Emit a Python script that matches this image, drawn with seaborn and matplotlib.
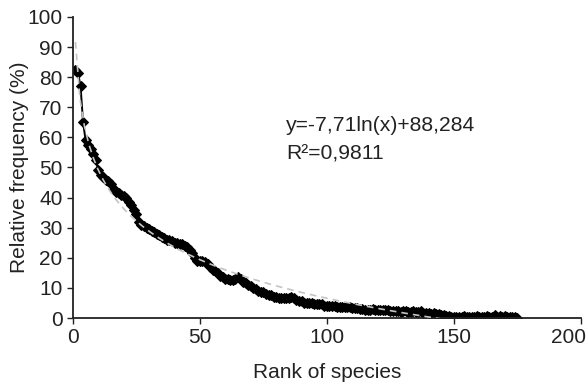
import numpy as np
import pandas as pd
import matplotlib
matplotlib.use("Agg")
import matplotlib.pyplot as plt
import matplotlib.transforms as mtransforms
import seaborn as sns

# ==============================
# data
# ==============================
freq = [
    82.5, 81.5, 77, 65, 59, 57.5, 56, 54.5, 52.5, 49,        # 1-10
    47.5, 47, 46, 45.5, 44.5, 43, 42, 41.5, 41, 40.5,        # 11-20
    40, 38.5, 37.5, 36, 34.5, 32, 31, 30.5, 30, 29.5,        # 21-30
    29, 28.5, 28, 27.5, 27, 26.5, 26, 26, 25.5, 25,          # 31-40
    25, 24.5, 24.5, 24, 23.5, 22.5, 21.5, 20, 19, 19,        # 41-50
    19, 18.5, 18, 17, 16, 15.5, 15, 14, 13.5, 13,            # 51-60
    13, 12.5, 12.5, 13, 13.5, 13, 12, 11.5, 11, 10.5,        # 61-70
    10, 9.5, 9, 8.5, 8.5, 8, 7.5, 7.5, 7, 7,                 # 71-80
    6.5, 6.5, 6.5, 6.5, 6.5, 7, 6.5, 6, 5.5, 5.5,            # 81-90
    5, 5, 5, 5, 4.5, 4.5, 4.5, 4.5, 4, 4,                    # 91-100
    4, 4, 4, 3.8, 3.8, 3.8, 3.5, 3.5, 3.5, 3.3,              # 101-110
    3.2, 3.2, 3, 2.9, 2.8, 2.8, 2.7, 2.9, 2.6, 2.6,          # 111-120
    2.6, 2.5, 2.5, 2.7, 2.4, 2.3, 2.3, 2.2, 2.1, 2.2,        # 121-130
    2.4, 2.0, 2.0, 2.4, 2.0, 1.9, 2.2, 1.8, 1.7, 1.6,        # 131-140
    1.4, 1.7, 1.3, 1.2, 1.0, 1.0, 0.8, 0.7, 0.3, 0.2,        # 141-150
    0.5, 0.3, 0.3, 0.6, 0.2, 0.5, 0.3, 0.4, 0.7, 0.3,        # 151-160
    0.5, 0.3, 0.8, 0.4, 0.5, 0.9, 0.4, 0.7, 0.3, 0.6,        # 161-170
    0.2, 0.5, 0.3, 0.2, 0.0,                                 # 171-175
]
rank = list(range(1, len(freq) + 1))

x_ticks = [0, 50, 100, 150, 200]
y_ticks = [0, 10, 20, 30, 40, 50, 60, 70, 80, 90, 100]
eq_text = "y=-7,71ln(x)+88,284"
r2_text = "R²=0,9811"

df = pd.DataFrame({"rank": rank, "freq": freq})

# ==============================
# style
# ==============================
sns.set_style("ticks")
plt.rcParams["font.family"] = ["Liberation Sans", "DejaVu Sans"]
plt.rcParams["xtick.direction"] = "out"
plt.rcParams["ytick.direction"] = "out"

fig = plt.figure(figsize=(5.88, 3.85), dpi=100)
ax = fig.add_axes([0.124, 0.174, 0.864, 0.782])

# observed rank-frequency curve
sns.lineplot(data=df, x="rank", y="freq", ax=ax, color="black",
             linewidth=1.4, marker="D", markersize=4.8,
             markeredgecolor="black", zorder=2)

# logarithmic trend line
sns.regplot(data=df, x="rank", y="freq", ax=ax, logx=True, scatter=False,
            ci=None, line_kws=dict(color="#c4c4c4", linestyle="--",
                                   linewidth=1.2, dashes=(4, 3), zorder=3))

ax.set_xlim(0, 200)
ax.set_ylim(0, 100)
ax.set_xticks(x_ticks)
ax.set_yticks(y_ticks)
ax.tick_params(labelsize=15, length=4, width=1, color="#222222",
               labelcolor="#222222")
for s in ["left", "bottom"]:
    ax.spines[s].set_linewidth(1.3)
    ax.spines[s].set_color("#222222")
sns.despine(ax=ax)

# keep the last x label inside the figure, as in the reference
last = ax.get_xticklabels()[-1]
last.set_horizontalalignment("right")
last.set_transform(last.get_transform() +
                   mtransforms.ScaledTranslation(5 / 100, 0, fig.dpi_scale_trans))

ax.set_xlabel("Rank of species", fontsize=15, labelpad=11, color="#222222")
ax.set_ylabel("Relative frequency (%)", fontsize=15, color="#222222")
ax.yaxis.set_label_coords(-0.086, 0.5)

ax.text(84, 64, eq_text, fontsize=15.2, va="center", color="#222222")
ax.text(84, 54.5, r2_text, fontsize=15.2, va="center", color="#222222")

fig.savefig("out.png", dpi=100)
